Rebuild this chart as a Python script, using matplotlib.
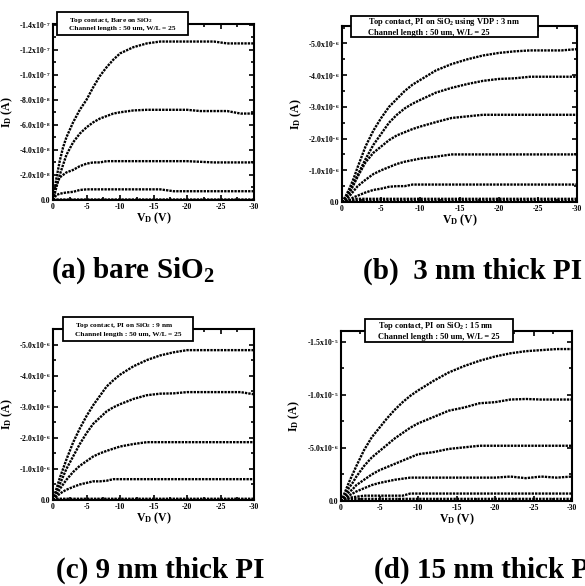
import numpy as np
import matplotlib
matplotlib.use("Agg")
import matplotlib.pyplot as plt
from matplotlib.ticker import FuncFormatter, MultipleLocator, AutoMinorLocator
from matplotlib.patches import Rectangle

plt.rcParams['font.family'] = ['Liberation Serif', 'DejaVu Serif']
plt.rcParams['font.weight'] = 'bold'
plt.rcParams['axes.labelweight'] = 'bold'
plt.rcParams['mathtext.fontset'] = 'custom'
plt.rcParams['mathtext.rm'] = 'Liberation Serif:bold'
plt.rcParams['mathtext.default'] = 'regular'

# drain voltage magnitude |V_D| (V), shared by every panel
vd = [0, 0.5, 1, 1.5, 2, 3, 4, 5, 6, 7, 8, 9, 10, 12, 14, 16, 18, 20, 22, 24, 26, 28, 30]

# (a) bare SiO2, |I_D| in units of 1e-7 A
a_curves = [
    [0, 0.17, 0.31, 0.42, 0.50, 0.62, 0.72, 0.80, 0.90, 0.99, 1.06, 1.12, 1.17, 1.22, 1.25, 1.265, 1.265, 1.265, 1.265, 1.265, 1.25, 1.25, 1.25],
    [0, 0.10, 0.20, 0.28, 0.36, 0.46, 0.53, 0.58, 0.62, 0.65, 0.67, 0.69, 0.70, 0.715, 0.72, 0.72, 0.72, 0.72, 0.71, 0.71, 0.71, 0.69, 0.69],
    [0, 0.12, 0.18, 0.20, 0.22, 0.24, 0.27, 0.29, 0.30, 0.30, 0.31, 0.31, 0.31, 0.31, 0.31, 0.31, 0.31, 0.31, 0.305, 0.30, 0.30, 0.30, 0.30],
    [0, 0.04, 0.05, 0.055, 0.06, 0.065, 0.08, 0.085, 0.085, 0.085, 0.085, 0.085, 0.085, 0.085, 0.085, 0.085, 0.07, 0.07, 0.07, 0.07, 0.07, 0.07, 0.07],
    [0, 0.004, 0.004, 0.004, 0.004, 0.004, 0.004, 0.004, 0.004, 0.004, 0.004, 0.004, 0.004, 0.004, 0.004, 0.004, 0.004, 0.004, 0.004, 0.004, 0.004, 0.004, 0.004],
]
# (b) 3 nm PI, units of 1e-6 A
b_curves = [
    [0, 0.2, 0.45, 0.75, 1.1, 1.75, 2.25, 2.65, 3.0, 3.25, 3.5, 3.7, 3.85, 4.15, 4.35, 4.5, 4.62, 4.7, 4.75, 4.78, 4.78, 4.78, 4.82],
    [0, 0.15, 0.37, 0.6, 0.85, 1.35, 1.8, 2.15, 2.5, 2.75, 2.95, 3.1, 3.22, 3.45, 3.6, 3.72, 3.82, 3.88, 3.9, 3.95, 3.95, 3.95, 3.95],
    [0, 0.1, 0.3, 0.55, 0.8, 1.25, 1.55, 1.75, 1.95, 2.1, 2.2, 2.3, 2.38, 2.52, 2.65, 2.7, 2.75, 2.75, 2.75, 2.75, 2.75, 2.75, 2.75],
    [0, 0.05, 0.2, 0.35, 0.5, 0.7, 0.88, 1.0, 1.1, 1.2, 1.27, 1.32, 1.37, 1.43, 1.5, 1.5, 1.5, 1.5, 1.5, 1.5, 1.5, 1.5, 1.5],
    [0, 0.02, 0.08, 0.15, 0.2, 0.3, 0.38, 0.42, 0.48, 0.5, 0.5, 0.55, 0.55, 0.55, 0.55, 0.55, 0.55, 0.55, 0.55, 0.55, 0.55, 0.55, 0.55],
    [0, 0.02, 0.05, 0.08, 0.1, 0.1, 0.1, 0.1, 0.1, 0.1, 0.1, 0.1, 0.1, 0.1, 0.1, 0.1, 0.1, 0.1, 0.1, 0.1, 0.1, 0.1, 0.1],
    [0, 0.03, 0.03, 0.03, 0.03, 0.03, 0.03, 0.03, 0.03, 0.03, 0.03, 0.03, 0.03, 0.03, 0.03, 0.03, 0.03, 0.03, 0.03, 0.03, 0.03, 0.03, 0.03],
]
# (c) 9 nm PI, units of 1e-6 A
c_curves = [
    [0, 0.35, 0.7, 1.0, 1.3, 1.85, 2.3, 2.7, 3.05, 3.35, 3.65, 3.85, 4.03, 4.3, 4.5, 4.65, 4.75, 4.82, 4.82, 4.82, 4.82, 4.82, 4.82],
    [0, 0.25, 0.5, 0.75, 1.0, 1.4, 1.8, 2.15, 2.45, 2.65, 2.85, 2.98, 3.08, 3.25, 3.37, 3.42, 3.43, 3.47, 3.47, 3.47, 3.47, 3.47, 3.4],
    [0, 0.15, 0.35, 0.5, 0.65, 0.9, 1.1, 1.25, 1.4, 1.5, 1.58, 1.65, 1.72, 1.8, 1.86, 1.86, 1.86, 1.86, 1.86, 1.86, 1.86, 1.86, 1.86],
    [0, 0.1, 0.2, 0.27, 0.33, 0.42, 0.5, 0.55, 0.6, 0.6, 0.62, 0.67, 0.67, 0.67, 0.67, 0.67, 0.67, 0.67, 0.67, 0.67, 0.67, 0.67, 0.67],
    [0, 0.04, 0.04, 0.04, 0.04, 0.04, 0.04, 0.04, 0.04, 0.04, 0.04, 0.04, 0.04, 0.04, 0.04, 0.04, 0.04, 0.04, 0.04, 0.04, 0.04, 0.04, 0.04],
    [0, 0.01, 0.01, 0.01, 0.01, 0.01, 0.01, 0.01, 0.01, 0.01, 0.01, 0.01, 0.01, 0.01, 0.01, 0.01, 0.01, 0.01, 0.01, 0.01, 0.01, 0.01, 0.01],
]
# (d) 15 nm PI, units of 1e-5 A
d_curves = [
    [0, 0.08, 0.17, 0.25, 0.33, 0.48, 0.6, 0.69, 0.78, 0.86, 0.93, 0.99, 1.04, 1.13, 1.21, 1.27, 1.32, 1.36, 1.39, 1.41, 1.42, 1.43, 1.43],
    [0, 0.05, 0.12, 0.17, 0.23, 0.33, 0.41, 0.47, 0.53, 0.59, 0.64, 0.69, 0.73, 0.79, 0.85, 0.88, 0.92, 0.93, 0.955, 0.96, 0.955, 0.955, 0.955],
    [0, 0.03, 0.08, 0.11, 0.15, 0.2, 0.25, 0.29, 0.32, 0.35, 0.38, 0.41, 0.44, 0.46, 0.49, 0.505, 0.52, 0.52, 0.52, 0.52, 0.52, 0.52, 0.52],
    [0, 0.02, 0.05, 0.07, 0.09, 0.12, 0.15, 0.17, 0.185, 0.2, 0.21, 0.22, 0.22, 0.22, 0.22, 0.22, 0.22, 0.22, 0.23, 0.215, 0.23, 0.22, 0.23],
    [0, 0.01, 0.03, 0.035, 0.04, 0.05, 0.05, 0.05, 0.05, 0.05, 0.05, 0.07, 0.07, 0.07, 0.07, 0.07, 0.07, 0.07, 0.07, 0.07, 0.07, 0.07, 0.07],
    [0, 0.02, 0.02, 0.02, 0.02, 0.02, 0.02, 0.02, 0.02, 0.02, 0.02, 0.02, 0.02, 0.02, 0.02, 0.02, 0.02, 0.02, 0.02, 0.02, 0.02, 0.02, 0.02],
]

panels = [
    # curves, scale, ylim top, major step, box text, caption
    (a_curves, 1e-7, 1.405e-7, 2e-8,
     "Top contact, Bare on SiO$_2$\nChannel length : 50 um, W/L = 25", r"(a) bare SiO$_2$"),
    (b_curves, 1e-6, 5.55e-6, 1e-6,
     "Top contact, PI on SiO$_2$ using VDP : 3 nm\nChannel length : 50 um, W/L = 25", "(b)  3 nm thick PI"),
    (c_curves, 1e-6, 5.5e-6, 1e-6,
     "Top contact, PI on SiO$_2$ : 9 nm\nChannel length : 50 um, W/L = 25", "(c) 9 nm thick PI"),
    (d_curves, 1e-5, 1.6e-5, 5e-6,
     "Top contact, PI on SiO$_2$ : 15 nm\nChannel length : 50 um, W/L = 25", "(d) 15 nm thick PI"),
]

W, H = 585, 586
# axes boxes in pixels: left, top, right, bottom
ax_px = [(53, 24, 254, 200), (342, 26, 577, 202), (53, 329, 254, 500), (341, 331, 572, 501)]
# legend boxes in pixels: left, top, right, bottom
box_px = [(57, 12, 188, 35), (351, 16, 538, 37), (63, 317, 193, 341), (365, 319, 513, 342)]
box_fs = [5.3, 6.0, 5.3, 6.0]
cap_px = [(51, 271), (363, 271), (56, 570), (374, 570)]


def ylab(v, pos):
    if v < -1e-20:
        return ""
    if abs(v) < 1e-20:
        return "0.0"
    e = int(np.floor(np.log10(v) + 1e-9))
    m = v / 10.0 ** e
    return "-%.1fx10$^{%d}$" % (m, e)


def xlab(v, pos):
    if abs(v) < 1e-9:
        return "0"
    return "-%d" % int(round(v))


fig = plt.figure(figsize=(W / 100, H / 100), dpi=100)

for i, (curves, scale, ytop, ystep, boxtxt, cap) in enumerate(panels):
    l, t, r, b = ax_px[i]
    ax = fig.add_axes([l / W, 1 - b / H, (r - l) / W, (b - t) / H])
    for cur in curves:
        ax.plot(vd, np.array(cur) * scale, color='black', lw=1.7,
                linestyle=(0, (1.0, 0.45)), dash_capstyle='butt')
    ax.set_xlim(0, 30)
    ax.set_ylim(0, ytop)
    ax.xaxis.set_major_locator(MultipleLocator(5))
    ax.xaxis.set_minor_locator(AutoMinorLocator(2))
    ax.yaxis.set_major_locator(MultipleLocator(ystep))
    ax.yaxis.set_minor_locator(AutoMinorLocator(2))
    ax.xaxis.set_major_formatter(FuncFormatter(xlab))
    ax.yaxis.set_major_formatter(FuncFormatter(ylab))
    ax.tick_params(which='both', direction='in', top=True, right=True, width=1.2,
                   labelsize=5.6, pad=2)
    ax.tick_params(which='major', length=3.5)
    ax.tick_params(which='minor', length=2)
    for s in ax.spines.values():
        s.set_linewidth(1.5)
    ax.set_xlabel("V$_D$ (V)", fontsize=8.5, labelpad=0)
    ax.set_ylabel("I$_D$ (A)", fontsize=8.5, labelpad=3)

    bl, bt, br, bb = box_px[i]
    fig.add_artist(Rectangle((bl / W, 1 - bb / H), (br - bl) / W, (bb - bt) / H,
                             transform=fig.transFigure, facecolor='white',
                             edgecolor='black', lw=1.3, zorder=5))
    fig.text((bl + br) / 2 / W, 1 - (bt + bb) / 2 / H, boxtxt, fontsize=box_fs[i],
             ha='center', va='center', multialignment='left', zorder=6,
             linespacing=1.3)

    cx, cy = cap_px[i]
    fig.text(cx / W, 1 - cy / H, cap, fontsize=21, ha='left', va='center')

fig.savefig("out.png", dpi=100)
